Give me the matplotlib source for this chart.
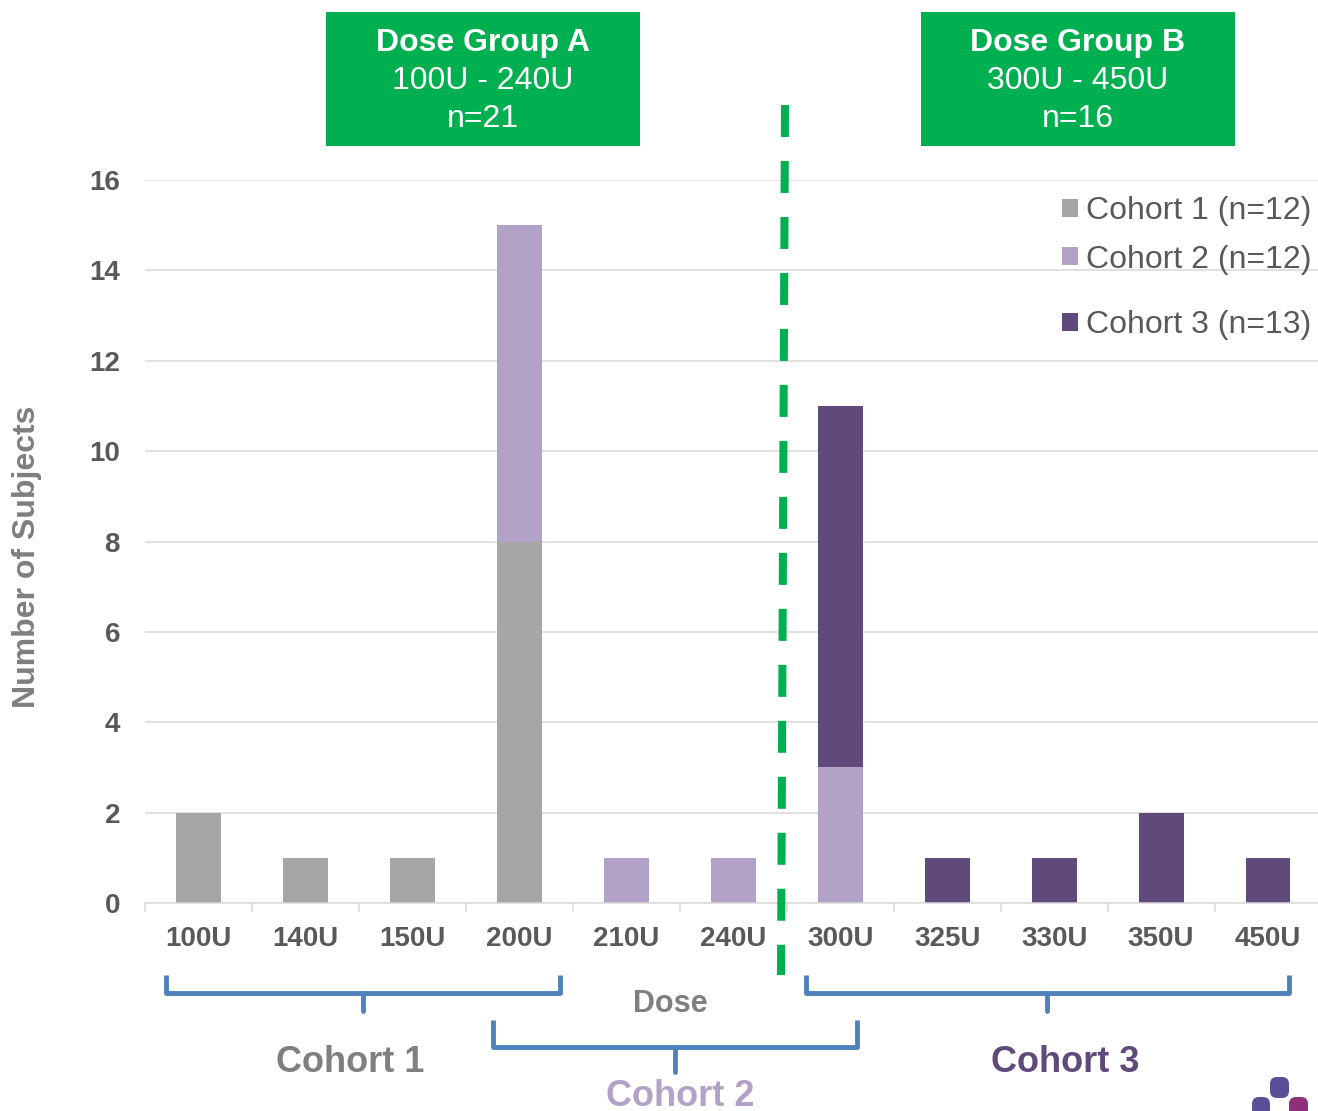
import numpy as np
import matplotlib
matplotlib.use("Agg")
import matplotlib.pyplot as plt
from matplotlib.patches import Patch, Rectangle, FancyBboxPatch
from matplotlib.lines import Line2D

plt.rcParams['font.family'] = ['Liberation Sans', 'DejaVu Sans']

doses = ["100U", "140U", "150U", "200U", "210U", "240U", "300U", "325U", "330U", "350U", "450U"]
cohort1 = [2, 1, 1, 8, 0, 0, 0, 0, 0, 0, 0]
cohort2 = [0, 0, 0, 7, 1, 1, 3, 0, 0, 0, 0]
cohort3 = [0, 0, 0, 0, 0, 0, 8, 1, 1, 2, 1]
legend_labels = ["Cohort 1 (n=12)", "Cohort 2 (n=12)", "Cohort 3 (n=13)"]
group_titles = ["Dose Group A", "Dose Group B"]
group_ranges = ["100U - 240U", "300U - 450U"]
group_ns = ["n=21", "n=16"]

C1 = "#A6A6A6"
C2 = "#B3A2C7"
C3 = "#604A7B"
GREEN = "#00B050"
BLUE = "#4F81BD"
GRID = "#D9D9D9"
TXT = "#595959"

W, H = 1318, 1111
fig = plt.figure(figsize=(W / 100, H / 100), dpi=100)
P = fig.dpi_scale_trans


def pt(x, y):
    return (x / 100.0, (H - y) / 100.0)


ax = fig.add_axes([145 / W, (H - 903) / H, 1176.5 / W, 723 / H])
x = np.arange(len(doses))
c1 = np.array(cohort1)
c2 = np.array(cohort2)
c3 = np.array(cohort3)
bw = 0.42
ax.bar(x, c1, bw, color=C1, zorder=2)
ax.bar(x, c2, bw, bottom=c1, color=C2, zorder=2)
ax.bar(x, c3, bw, bottom=c1 + c2, color=C3, zorder=2)

ax.set_xlim(-0.5, len(doses) - 0.5)
ax.set_ylim(0, 16)
ax.set_yticks(np.arange(0, 17, 2))
ax.set_xticks(x)
ax.set_xticklabels(doses)
ax.set_xticks(np.arange(-0.5, len(doses), 1.0), minor=True)
ax.tick_params(axis='x', which='major', length=0, pad=16.5, labelsize=20, labelcolor=TXT)
ax.tick_params(axis='x', which='minor', length=6.5, width=1.1, color=GRID)
ax.tick_params(axis='y', length=0, pad=18, labelsize=20, labelcolor=TXT)
for lab in ax.get_xticklabels() + ax.get_yticklabels():
    lab.set_fontweight('bold')
ax.yaxis.grid(True, color=GRID, linewidth=1.1, zorder=0)
ax.set_axisbelow(True)
for s in ['top', 'right', 'left']:
    ax.spines[s].set_visible(False)
ax.spines['bottom'].set_color(GRID)
ax.spines['bottom'].set_linewidth(1.1)
ylab = ax.set_ylabel("Number of Subjects", fontsize=23, fontweight='bold', color="#7F7F7F",
                     labelpad=0)
ylab.set_va('center')
ax.yaxis.set_label_coords(27 / W, (H - 557) / H, transform=fig.transFigure)

# Legends
h1 = [Patch(facecolor=C1, edgecolor='none'), Patch(facecolor=C2, edgecolor='none')]
leg1 = ax.legend(h1, legend_labels[:2], loc='upper left', bbox_to_anchor=pt(1062, 196),
                 bbox_transform=P, frameon=False, fontsize=23, handlelength=0.5,
                 handleheight=0.5, handletextpad=0.25, labelspacing=0.58, borderpad=0,
                 borderaxespad=0, labelcolor=TXT)
ax.add_artist(leg1)
h2 = [Patch(facecolor=C3, edgecolor='none')]
ax.legend(h2, legend_labels[2:], loc='upper left', bbox_to_anchor=pt(1062, 310),
          bbox_transform=P, frameon=False, fontsize=23, handlelength=0.5,
          handleheight=0.5, handletextpad=0.25, borderpad=0, borderaxespad=0,
          labelcolor=TXT)

# Green group boxes
for (x0, x1), t, r, n in zip([(326, 640), (921, 1235)], group_titles, group_ranges, group_ns):
    fig.patches.append(Rectangle(pt(x0, 146), (x1 - x0) / 100, (146 - 12) / 100,
                                 transform=P, facecolor=GREEN, edgecolor='none'))
    cx = (x0 + x1) / 2
    fig.text(*pt(cx, 43), t, transform=P, ha='center', va='center', color='white',
             fontsize=23, fontweight='bold')
    fig.text(*pt(cx, 81), r, transform=P, ha='center', va='center', color='white', fontsize=23)
    fig.text(*pt(cx, 119), n, transform=P, ha='center', va='center', color='white', fontsize=23)

# Dashed divider
xa, ya = pt(785, 105)
xb, yb = pt(781, 975)
fig.lines.append(Line2D([xa, xb], [ya, yb], transform=P, color=GREEN, linewidth=5.8,
                        dashes=(3.97, 2.98), solid_capstyle='butt', dash_capstyle='butt'))


# Brackets
def bracket(xl, xr, ytop, ybar, xc, ytip):
    xs = [xl, xl, xr, xr]
    ys = [ytop, ybar, ybar, ytop]
    p = [pt(a, b) for a, b in zip(xs, ys)]
    fig.lines.append(Line2D([q[0] for q in p], [q[1] for q in p], transform=P, color=BLUE,
                            linewidth=3.5, solid_joinstyle='round', solid_capstyle='butt'))
    q0, q1 = pt(xc, ybar), pt(xc, ytip)
    fig.lines.append(Line2D([q0[0], q1[0]], [q0[1], q1[1]], transform=P, color=BLUE,
                            linewidth=3.5, solid_capstyle='round'))


bracket(166, 560, 975, 993, 363, 1011)
bracket(493, 857, 1020, 1047, 675, 1072)
bracket(806, 1289, 975, 993, 1047, 1011)

fig.text(*pt(670, 1004), "Dose", transform=P, ha='center', va='center', color="#7F7F7F",
         fontsize=22, fontweight='bold')
fig.text(*pt(350, 1062), "Cohort 1", transform=P, ha='center', va='center', color="#7F7F7F",
         fontsize=26, fontweight='bold')
fig.text(*pt(680, 1097), "Cohort 2", transform=P, ha='center', va='center', color=C2,
         fontsize=26, fontweight='bold')
fig.text(*pt(1065, 1062), "Cohort 3", transform=P, ha='center', va='center', color=C3,
         fontsize=26, fontweight='bold')

# Logo fragment bottom-right
for (lx, ly, lw, lh, col) in [(1270, 1098, 19, 21, "#5B4E96"), (1252, 1116, 18, 19, "#5B4E96"),
                              (1289, 1116, 19, 19, "#8E2F7C")]:
    fig.patches.append(FancyBboxPatch(pt(lx, ly), lw / 100, lh / 100,
                                      boxstyle="round,pad=0,rounding_size=0.07",
                                      transform=P, facecolor=col, edgecolor='none'))

fig.savefig("out.png", dpi=100)
